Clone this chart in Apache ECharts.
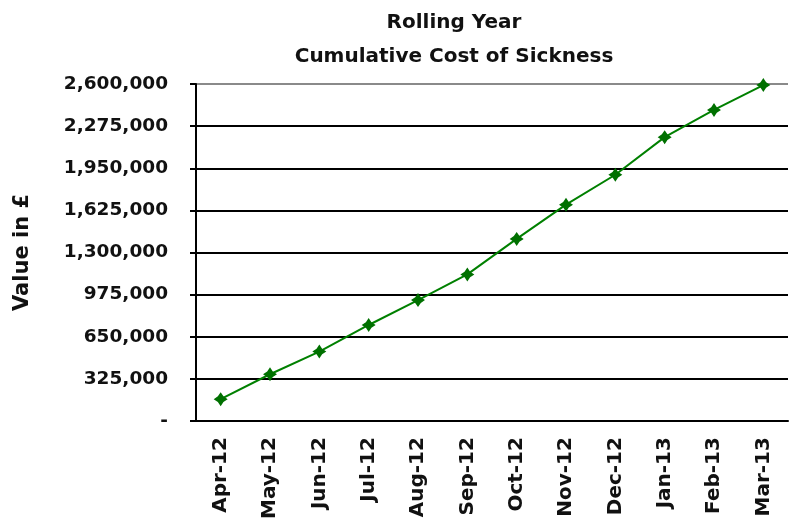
<!DOCTYPE html>
<html>
<head>
<meta charset="utf-8">
<script src="https://cdn.jsdelivr.net/npm/echarts@6/dist/echarts.min.js"></script>
<style>
html, body { margin: 0; padding: 0; background: #fff; }
#main { width: 790px; height: 522px; }
</style>
</head>
<body>
<div id="main"></div>
<script>
// months on the x axis
var months = ['Apr-12', 'May-12', 'Jun-12', 'Jul-12', 'Aug-12', 'Sep-12',
              'Oct-12', 'Nov-12', 'Dec-12', 'Jan-13', 'Feb-13', 'Mar-13']
// cumulative cost
var cumulativeCost = [169000, 361000, 536000, 741000, 933000, 1131000,
                      1405000, 1669000, 1900000, 2190000, 2400000, 2592000]
var yMax = 2600000
var yStep = 325000

var myChart = echarts.init(document.getElementById('main'))
var fontName = 'DejaVu Sans'

// grid lines are black, the top one grey
var gridColors = []
for (var i = 0; i < 8; i++) gridColors.push('#000')
gridColors.push('#8a8a8a')

var option = {
    animation: false,
    backgroundColor: '#fff',
    title: {
        text: 'Rolling Year\nCumulative Cost of Sickness',
        left: 449,
        top: 1,
        textAlign: 'center',
        textStyle: { fontFamily: fontName, fontWeight: 'bold', fontSize: 20, lineHeight: 34, color: '#111' }
    },
    grid: { left: 196, right: 2, top: 84, bottom: 100 },
    xAxis: {
        type: 'category',
        data: months,
        boundaryGap: true,
        axisLine: { lineStyle: { color: '#000', width: 2 } },
        axisTick: { length: 6, lineStyle: { color: '#000', width: 2 } },
        axisLabel: {
            rotate: 90, margin: 16, interval: 0,
            fontFamily: fontName, fontWeight: 'bold', fontSize: 20, color: '#111'
        }
    },
    yAxis: {
        type: 'value',
        min: 0, max: yMax, interval: yStep,
        name: 'Value in £',
        nameLocation: 'middle',
        nameGap: 163,
        nameTextStyle: { fontFamily: fontName, fontWeight: 'bold', fontSize: 21, color: '#111' },
        axisLine: { show: true, lineStyle: { color: '#000', width: 2 } },
        axisTick: { show: true, length: 6, lineStyle: { color: '#000', width: 2 } },
        splitLine: { lineStyle: { color: gridColors, width: 2 } },
        axisLabel: {
            margin: 28,
            fontFamily: fontName, fontWeight: 'bold', fontSize: 18.5, color: '#111',
            formatter: function (v) { return v === 0 ? '-' : v.toLocaleString('en-GB') }
        }
    },
    series: [{
        type: 'line',
        data: cumulativeCost,
        lineStyle: { color: '#008000', width: 2 },
        itemStyle: { color: '#007000' },
        symbol: 'path://M0,-10 L4,-4 L10,0 L4,4 L0,10 L-4,4 L-10,0 L-4,-4 Z',
        symbolSize: 14
    }]
}
myChart.setOption(option)
</script>
</body>
</html>
